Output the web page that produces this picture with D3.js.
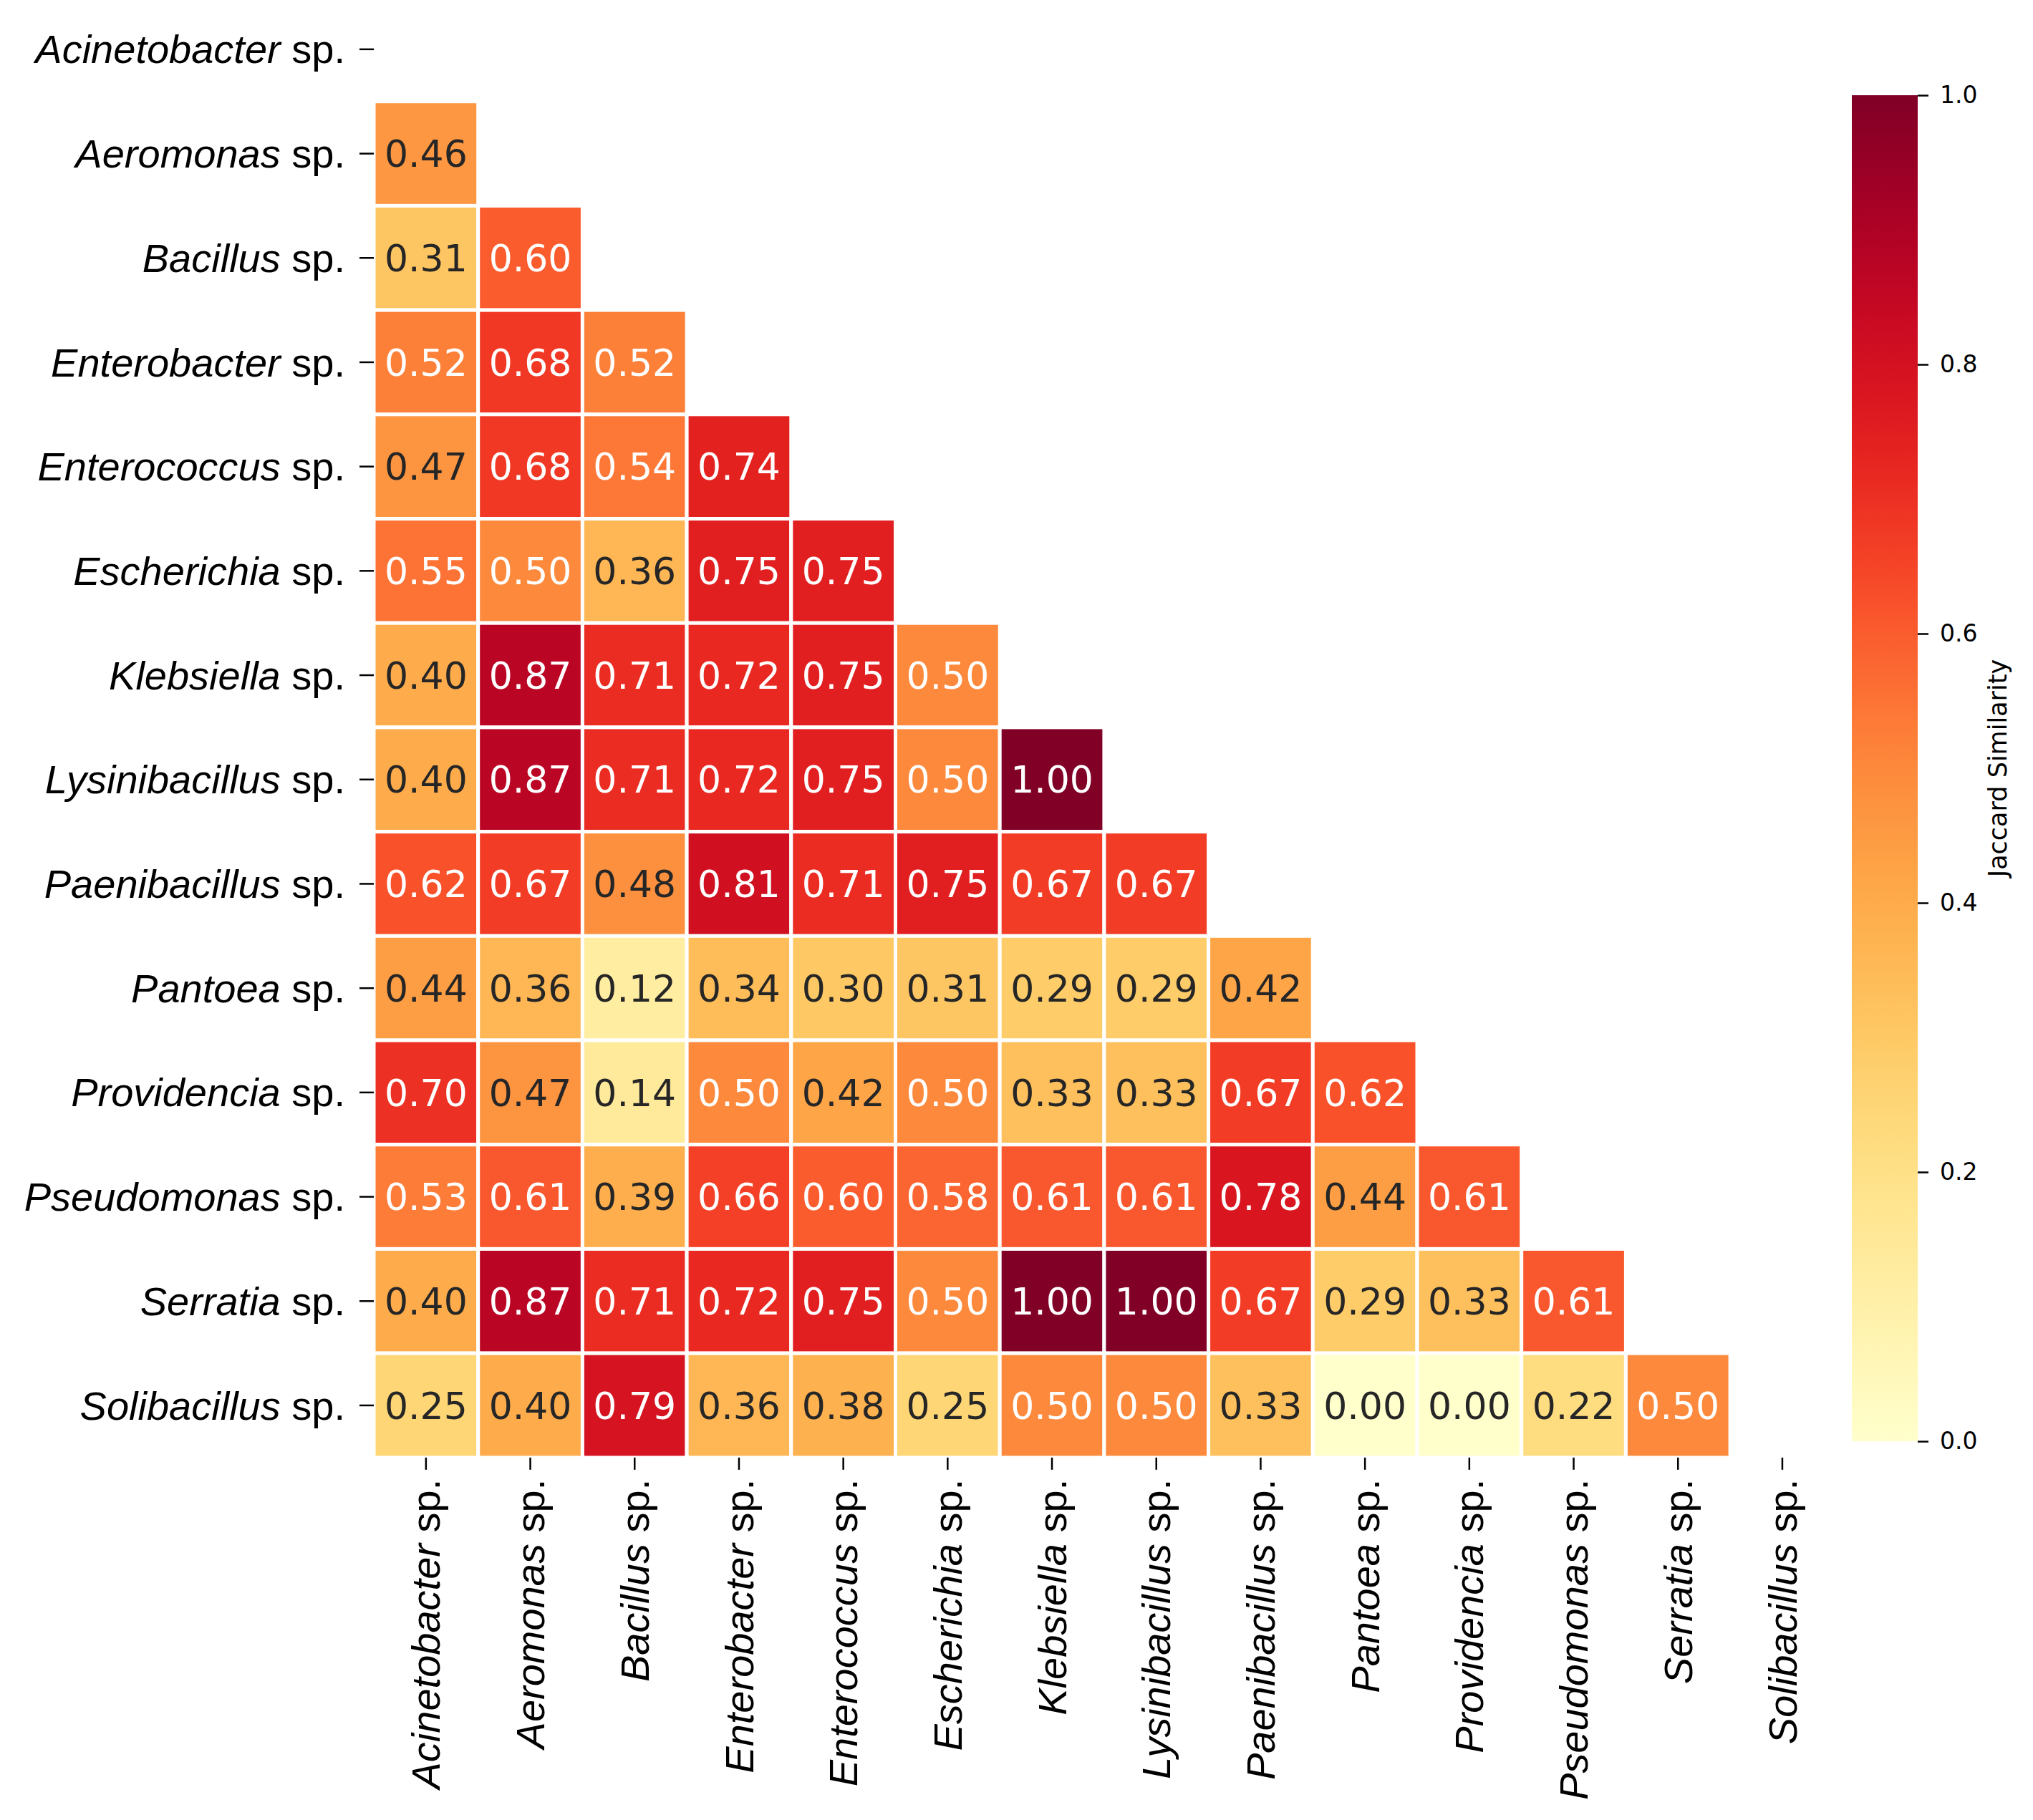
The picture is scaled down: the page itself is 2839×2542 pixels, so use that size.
<!DOCTYPE html>
<html><head><meta charset="utf-8">
<script src="https://cdn.jsdelivr.net/npm/d3@7"></script>
<style>body{margin:0;background:#fff}</style>
</head><body>
<svg id="chart" width="2839" height="2542"></svg>
<script>
const genera = ["Acinetobacter","Aeromonas","Bacillus","Enterobacter","Enterococcus","Escherichia","Klebsiella","Lysinibacillus","Paenibacillus","Pantoea","Providencia","Pseudomonas","Serratia","Solibacillus"];
// lower triangle rows (row i has i values, columns 0..i-1)
const row0 = [];
const row1 = [0.46];
const row2 = [0.31,0.60];
const row3 = [0.52,0.68,0.52];
const row4 = [0.47,0.68,0.54,0.74];
const row5 = [0.55,0.50,0.36,0.75,0.75];
const row6 = [0.40,0.87,0.71,0.72,0.75,0.50];
const row7 = [0.40,0.87,0.71,0.72,0.75,0.50,1.00];
const row8 = [0.62,0.67,0.48,0.81,0.71,0.75,0.67,0.67];
const row9 = [0.44,0.36,0.12,0.34,0.30,0.31,0.29,0.29,0.42];
const row10 = [0.70,0.47,0.14,0.50,0.42,0.50,0.33,0.33,0.67,0.62];
const row11 = [0.53,0.61,0.39,0.66,0.60,0.58,0.61,0.61,0.78,0.44,0.61];
const row12 = [0.40,0.87,0.71,0.72,0.75,0.50,1.00,1.00,0.67,0.29,0.33,0.61];
const row13 = [0.25,0.40,0.79,0.36,0.38,0.25,0.50,0.50,0.33,0.00,0.00,0.22,0.50];
const colorbarTicks = [0.0,0.2,0.4,0.6,0.8,1.0];
const colorbarLabel = "Jaccard Similarity";

const rows = [row0,row1,row2,row3,row4,row5,row6,row7,row8,row9,row10,row11,row12,row13];
const cells = [];
rows.forEach((r,i)=>r.forEach((v,j)=>cells.push({i,j,v})));

const svg = d3.select("#chart");
const x0 = 522, y0 = -4, cell = 145.7, n = genera.length;
const x = d3.scaleBand().domain(d3.range(n)).range([x0, x0 + n*cell]);
const y = d3.scaleBand().domain(d3.range(n)).range([y0, y0 + n*cell]);
const color = d3.scaleSequential(d3.interpolateYlOrRd).domain([0,1]);

function lum(c){
  const rgb = d3.rgb(c);
  const f = v => { v/=255; return v <= 0.03928 ? v/12.92 : Math.pow((v+0.055)/1.055, 2.4); };
  return 0.2126*f(rgb.r)+0.7152*f(rgb.g)+0.0722*f(rgb.b);
}

const g = svg.append("g");
g.selectAll("rect.cell").data(cells).join("rect")
  .attr("class","cell")
  .attr("x", d=>x(d.j)).attr("y", d=>y(d.i))
  .attr("width", x.bandwidth()).attr("height", y.bandwidth())
  .attr("fill", d=>color(d.v))
  .attr("stroke","#fff").attr("stroke-width",5);

g.selectAll("text.ann").data(cells).join("text")
  .attr("class","ann")
  .attr("x", d=>x(d.j)+x.bandwidth()/2)
  .attr("y", d=>y(d.i)+y.bandwidth()/2)
  .attr("dy","0.36em")
  .attr("text-anchor","middle")
  .attr("font-family","DejaVu Sans")
  .attr("font-size",52)
  .attr("fill", d=> lum(color(d.v)) > 0.408 ? "#262626" : "#ffffff")
  .text(d=>d.v.toFixed(2));

// Y axis
const yAxisX = x0;
const yt = svg.append("g").selectAll("g").data(genera).join("g")
  .attr("transform",(d,i)=>`translate(0,${y(i)+y.bandwidth()/2})`);
yt.append("line").attr("x1",yAxisX-20).attr("x2",yAxisX).attr("stroke","#000").attr("stroke-width",2.5);
const ytx = yt.append("text").attr("x",yAxisX-40).attr("dy","0.35em")
  .attr("text-anchor","end").attr("font-family","Liberation Sans, Arial").attr("font-size",56).attr("fill","#000");
ytx.append("tspan").attr("font-style","italic").text(d=>d);
ytx.append("tspan").text(" sp.");

// X axis
const xAxisY = y0 + n*cell;
const xt = svg.append("g").selectAll("g").data(genera).join("g")
  .attr("transform",(d,i)=>`translate(${x(i)+x.bandwidth()/2},${xAxisY})`);
xt.append("line").attr("y1",0).attr("y2",17).attr("stroke","#000").attr("stroke-width",2.5);
const xtx = xt.append("text").attr("transform","translate(0,30) rotate(-90)").attr("dy","0.35em")
  .attr("text-anchor","end").attr("font-family","Liberation Sans, Arial").attr("font-size",56).attr("fill","#000");
xtx.append("tspan").attr("font-style","italic").text(d=>d);
xtx.append("tspan").text(" sp.");

// Colorbar
const cbX = 2586, cbW = 92, cbTop = 133, cbBot = 2013;
const cy = d3.scaleLinear().domain([0,1]).range([cbBot, cbTop]);
const defs = svg.append("defs");
const grad = defs.append("linearGradient").attr("id","cbgrad").attr("x1","0").attr("y1","1").attr("x2","0").attr("y2","0");
grad.selectAll("stop").data(d3.range(0,1.0001,0.02)).join("stop")
  .attr("offset",d=>d).attr("stop-color",d=>color(d));
svg.append("rect").attr("x",cbX).attr("y",cbTop).attr("width",cbW).attr("height",cbBot-cbTop).attr("fill","url(#cbgrad)");
const cax = svg.append("g").attr("transform",`translate(${cbX+cbW},0)`)
  .call(d3.axisRight(cy).tickValues(colorbarTicks).tickFormat(d3.format(".1f")).tickSize(15).tickPadding(16));
cax.select(".domain").remove();
cax.selectAll("line").attr("stroke","#000").attr("stroke-width",2.5);
cax.selectAll("text").attr("font-family","DejaVu Sans").attr("font-size",33).attr("fill","#000");
svg.append("text").attr("transform",`translate(2790,${(cbTop+cbBot)/2}) rotate(-90)`)
  .attr("dy","0.35em").attr("text-anchor","middle").attr("font-family","DejaVu Sans").attr("font-size",35).attr("fill","#000")
  .text(colorbarLabel);
</script>
</body></html>
